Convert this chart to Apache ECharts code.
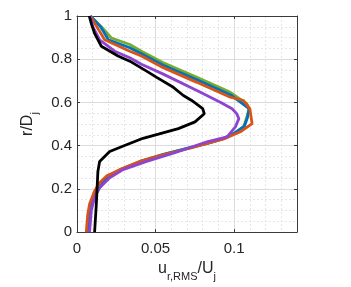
<!DOCTYPE html>
<html>
<head>
<meta charset="utf-8">
<script src="https://cdn.jsdelivr.net/npm/echarts@6/dist/echarts.min.js"></script>
<style>
html,body{margin:0;padding:0;background:#fff;}
#c{width:351px;height:287px;}
</style>
</head>
<body>
<div id="c"></div>
<script>
// ---- data (u_r,RMS/U_j vs r/D_j) ----
var greenR = [0, 0.1, 0.16, 0.2, 0.25, 0.29, 0.33, 0.36, 0.39, 0.41, 0.434, 0.46, 0.487, 0.53, 0.571, 0.594, 0.647, 0.716, 0.784, 0.837, 0.868, 0.898, 0.95, 1];
var greenU = [0.0065, 0.0078, 0.0100, 0.0135, 0.0185, 0.0275, 0.0410, 0.0550, 0.0715, 0.0830, 0.0940, 0.1010, 0.1060, 0.1080, 0.1095, 0.1080, 0.0976, 0.0763, 0.0549, 0.0410, 0.0336, 0.0219, 0.0155, 0.0085];

var blueR = [0, 0.1, 0.16, 0.2, 0.25, 0.29, 0.33, 0.36, 0.39, 0.41, 0.434, 0.46, 0.49, 0.53, 0.571, 0.636, 0.705, 0.772, 0.825, 0.853, 0.89, 0.95, 1];
var blueU = [0.0066, 0.0079, 0.0102, 0.0137, 0.0188, 0.0280, 0.0415, 0.0552, 0.0712, 0.0826, 0.0935, 0.1005, 0.1065, 0.1085, 0.1095, 0.0976, 0.0763, 0.0549, 0.0410, 0.0336, 0.0200, 0.0150, 0.0085];

var orangeR = [0, 0.08, 0.13, 0.19, 0.228, 0.259, 0.289, 0.327, 0.358, 0.388, 0.41, 0.434, 0.464, 0.502, 0.571, 0.609, 0.624, 0.693, 0.761, 0.815, 0.837, 0.89, 0.967, 1];
var orangeU = [0.0059, 0.0068, 0.0080, 0.0112, 0.0144, 0.0187, 0.0272, 0.0400, 0.0549, 0.0720, 0.0830, 0.0945, 0.1040, 0.1114, 0.1100, 0.1060, 0.0976, 0.0763, 0.0549, 0.0410, 0.0336, 0.0176, 0.0112, 0.0085];

var purpleR = [0, 0.099, 0.16, 0.205, 0.251, 0.289, 0.327, 0.365, 0.418, 0.441, 0.487, 0.525, 0.548, 0.571, 0.601, 0.655, 0.731, 0.777, 0.807, 0.837, 0.89, 0.95, 1];
var purpleU = [0.0080, 0.0091, 0.0112, 0.0144, 0.0208, 0.0293, 0.0443, 0.0613, 0.0827, 0.0955, 0.1008, 0.1030, 0.1016, 0.0987, 0.0912, 0.0763, 0.0549, 0.0410, 0.0336, 0.0240, 0.0144, 0.0101, 0.0085];

var blackR = [0, 0.13, 0.281, 0.327, 0.373, 0.404, 0.434, 0.453, 0.479, 0.51, 0.548, 0.571, 0.609, 0.632, 0.67, 0.716, 0.746, 0.791, 0.815, 0.86, 0.92, 0.96, 1];
var blackU = [0.0112, 0.0123, 0.0133, 0.0144, 0.0208, 0.0315, 0.0420, 0.0518, 0.0645, 0.0751, 0.0810, 0.0800, 0.0730, 0.0677, 0.0613, 0.0507, 0.0440, 0.0336, 0.0261, 0.0155, 0.0112, 0.0093, 0.0078];

var xTicks = [0, 0.05, 0.1];
var yTicks = [0, 0.2, 0.4, 0.6, 0.8, 1];

function pairs(u, r) { return u.map(function (v, i) { return [v, r[i]]; }); }

var axisColor = '#3a3a3a';
var textColor = '#262626';
var font = '"Liberation Sans", Arial, Helvetica, sans-serif';
var nameRich = {
  a: { fontSize: 16, lineHeight: 16, verticalAlign: 'top', color: textColor, fontFamily: font },
  s: { fontSize: 11, lineHeight: 11, verticalAlign: 'top', padding: [10, 0, 0, 0], color: textColor, fontFamily: font }
};

function lineSeries(u, r, color) {
  return {
    type: 'line', data: pairs(u, r), xAxisIndex: 0, yAxisIndex: 0,
    showSymbol: false, symbol: 'none', smooth: false,
    lineStyle: { color: color, width: 2.8 }, itemStyle: { color: color },
    z: 3, animation: false
  };
}

var chart = echarts.init(document.getElementById('c'), null, { renderer: 'canvas' });
chart.setOption({
  animation: false,
  backgroundColor: '#ffffff',
  grid: { left: 77, right: 54, top: 16, bottom: 52, show: false },
  xAxis: [
    {
      type: 'value', position: 'bottom', min: 0, max: 0.14, interval: 0.05, z: 2,
      axisLine: { show: true, onZero: false, lineStyle: { color: axisColor, width: 1 } },
      axisTick: { show: true, inside: true, length: 3, lineStyle: { color: axisColor } },
      axisLabel: {
        show: true, margin: 9, fontSize: 15, color: textColor, fontFamily: font, showMaxLabel: false,
        formatter: function (v) {
          for (var i = 0; i < xTicks.length; i++) { if (Math.abs(v - xTicks[i]) < 1e-9) return String(xTicks[i]); }
          return '';
        }
      },
      splitLine: { show: true, lineStyle: { color: '#dcdcdc', width: 1 } },
      name: '{a|u}{s|r,RMS}{a|/U}{s|j}', nameLocation: 'middle', nameGap: 28,
      nameTextStyle: { rich: nameRich }
    },
    {
      type: 'value', position: 'top', min: 0, max: 0.14, interval: 0.05, z: 2,
      axisLine: { show: true, onZero: false, lineStyle: { color: axisColor, width: 1 } },
      axisTick: { show: true, inside: true, length: 3, lineStyle: { color: axisColor } },
      axisLabel: { show: false },
      splitLine: { show: false }
    },
    {
      type: 'value', position: 'bottom', min: 0, max: 0.14, interval: 0.01, z: 0,
      axisLine: { show: false }, axisTick: { show: false }, axisLabel: { show: false },
      splitLine: { show: true, lineStyle: { color: '#e6e6e6', width: 1, type: [2, 2] } }
    }
  ],
  yAxis: [
    {
      type: 'value', position: 'left', min: 0, max: 1, interval: 0.2, z: 2,
      axisLine: { show: true, onZero: false, lineStyle: { color: axisColor, width: 1 } },
      axisTick: { show: true, inside: true, length: 3, lineStyle: { color: axisColor } },
      minorTick: { show: false, splitNumber: 4 },
      minorSplitLine: { show: true, lineStyle: { color: '#e6e6e6', width: 1, type: [2, 2] } },
      axisLabel: {
        show: true, margin: 5, fontSize: 15, color: textColor, fontFamily: font,
        formatter: function (v) {
          for (var i = 0; i < yTicks.length; i++) { if (Math.abs(v - yTicks[i]) < 1e-9) return String(yTicks[i]); }
          return '';
        }
      },
      splitLine: { show: true, lineStyle: { color: '#dcdcdc', width: 1 } },
      name: '{a|r/D}{s|j}', nameLocation: 'middle', nameGap: 24, nameRotate: 90,
      nameTextStyle: { rich: nameRich }
    },
    {
      type: 'value', position: 'right', min: 0, max: 1, interval: 0.2, z: 2,
      axisLine: { show: true, onZero: false, lineStyle: { color: axisColor, width: 1 } },
      axisTick: { show: true, inside: true, length: 3, lineStyle: { color: axisColor } },
      axisLabel: { show: false },
      splitLine: { show: false }
    }
  ],
  series: [
    lineSeries(greenU, greenR, '#77AC30'),
    lineSeries(blueU, blueR, '#0072BD'),
    lineSeries(orangeU, orangeR, '#D95319'),
    lineSeries(purpleU, purpleR, '#8E44D2'),
    lineSeries(blackU, blackR, '#000000')
  ]
});
</script>
</body>
</html>
